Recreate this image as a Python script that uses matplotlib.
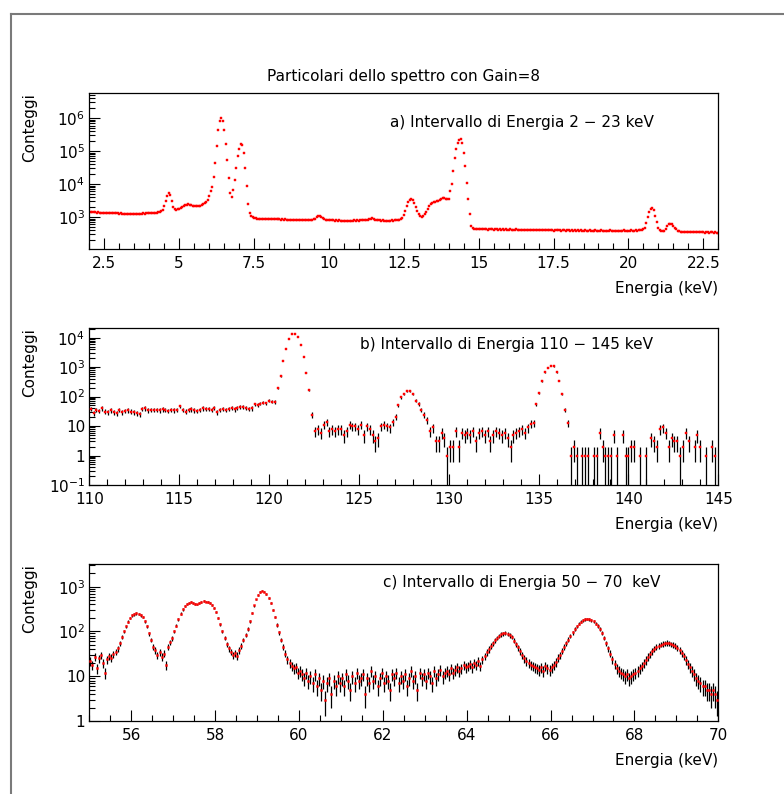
import numpy as np
import matplotlib
matplotlib.use('Agg')
import matplotlib.pyplot as plt
from matplotlib.ticker import MultipleLocator, LogLocator, FuncFormatter, NullFormatter
from matplotlib.lines import Line2D

plt.rcParams['font.family'] = ['DejaVu Sans']
plt.rcParams['mathtext.default'] = 'regular'

# ---------------- data ----------------
title = "Particolari dello spettro con Gain=8"
ylabel = "Conteggi"
xlabel = "Energia (keV)"
label_a = "a) Intervallo di Energia 2 \u2212 23 keV"
label_b = "b) Intervallo di Energia 110 \u2212 145 keV"
label_c = "c) Intervallo di Energia 50 \u2212 70  keV"

# panel a: bins of 0.05 keV starting at 2.00 keV (one row per keV)
a_start, a_step = 2.0, 0.05
a_counts = [
    1420, 1400, 1390, 1410, 1380, 1370, 1390, 1360, 1350, 1370, 1340, 1350, 1330, 1340, 1320, 1330, 1310, 1300, 1320, 1290,
    1280, 1300, 1270, 1260, 1280, 1250, 1260, 1240, 1250, 1240, 1260, 1250, 1270, 1260, 1280, 1270, 1290, 1280, 1300, 1290,
    1310, 1300, 1320, 1330, 1340, 1350, 1380, 1420, 1480, 1650, 2100, 3000, 4500, 5500, 4800, 3000, 2000, 1700, 1650, 1700,
    1800, 1900, 2000, 2100, 2250, 2400, 2450, 2400, 2250, 2150, 2100, 2100, 2100, 2150, 2200, 2300, 2450, 2600, 2800, 3300,
    4300, 6000, 8000, 16000, 45000, 140000, 450000, 850000, 1000000, 850000, 450000, 170000, 55000, 15000, 5500, 4200, 6500, 13000, 30000, 70000,
    120000, 160000, 150000, 90000, 30000, 9000, 2500, 1300, 1100, 1000, 950, 920, 900, 890, 900, 880, 890, 870, 880, 870,
    860, 870, 860, 850, 860, 850, 860, 850, 840, 850, 840, 850, 840, 830, 840, 830, 840, 830, 820, 830,
    820, 830, 820, 810, 820, 810, 800, 810, 800, 820, 850, 900, 980, 1050, 1060, 1000, 920, 850, 820, 800,
    800, 790, 800, 790, 780, 790, 780, 790, 780, 770, 780, 770, 780, 770, 780, 770, 780, 790, 780, 790,
    780, 790, 800, 790, 800, 810, 820, 850, 900, 920, 880, 840, 810, 800, 790, 780, 790, 780, 770, 780,
    780, 780, 790, 780, 790, 790, 800, 820, 860, 950, 1150, 1500, 2100, 2800, 3300, 3500, 3300, 2700, 2000, 1500,
    1200, 1050, 1000, 1050, 1200, 1450, 1800, 2200, 2500, 2700, 2800, 2900, 3000, 3100, 3300, 3500, 3700, 3700, 3600, 3500,
    3600, 6000, 10000, 25000, 60000, 120000, 180000, 220000, 230000, 180000, 90000, 35000, 11000, 3500, 1200, 550, 460, 440, 440, 430,
    430, 425, 435, 420, 430, 425, 415, 430, 420, 425, 415, 420, 430, 415, 420, 410, 425, 415, 420, 410,
    415, 420, 405, 415, 410, 420, 405, 410, 415, 400, 410, 405, 415, 400, 410, 405, 400, 410, 405, 400,
    405, 400, 410, 395, 405, 400, 395, 405, 395, 400, 390, 400, 395, 405, 395, 390, 400, 395, 390, 400,
    395, 390, 400, 390, 395, 385, 395, 390, 400, 385, 390, 395, 385, 390, 395, 385, 390, 385, 395, 390,
    385, 390, 395, 385, 390, 380, 390, 385, 395, 385, 390, 385, 380, 390, 385, 390, 385, 395, 390, 385,
    390, 385, 395, 390, 385, 395, 390, 395, 400, 410, 430, 480, 650, 1000, 1450, 1800, 1870, 1600, 1100, 700,
    480, 400, 370, 365, 380, 430, 520, 600, 630, 620, 550, 470, 420, 390, 370, 360, 360, 355, 350, 355,
    350, 345, 355, 345, 340, 350, 345, 340, 350, 340, 345, 335, 345, 340, 335, 340, 345, 335, 340, 330,
    335,
]

# panel b: bins of 0.16 keV starting at 110.08 keV
b_start, b_step = 110.08, 0.16
b_counts = [
    38, 28, 36, 33, 40, 31, 29, 34, 30, 27,
    35, 29, 33, 34, 31, 30, 27, 26, 39, 40,
    34, 36, 35, 36, 34, 37, 35, 33, 36, 34,
    36, 47, 36, 31, 35, 37, 34, 33, 36, 40,
    38, 39, 35, 41, 29, 35, 38, 35, 39, 42,
    37, 41, 46, 44, 42, 38, 40, 55, 52, 58,
    62, 60, 72, 68, 66, 190, 500, 1600, 4200, 8800,
    13000, 13000, 10500, 5500, 2200, 650, 170, 24, 7, 8,
    6, 11, 14, 7, 8, 7, 8, 8, 5, 7,
    11, 10, 10, 8, 11, 5, 10, 8, 5, 3,
    4, 10, 11, 10, 9, 14, 21, 50, 95, 125,
    155, 155, 120, 72, 56, 35, 24, 16, 7, 9,
    3, 3, 6, 4, 1, 2, 2, 7, 2, 6,
    5, 6, 5, 7, 3, 6, 7, 5, 7, 3,
    5, 7, 6, 5, 6, 4, 2, 5, 6, 7,
    8, 6, 9, 12, 13, 55, 130, 340, 680, 950,
    1120, 1070, 680, 350, 120, 36, 13, 1, 2, 1,
    0, 1, 1, 1, 0, 1, 1, 6, 2, 1,
    1, 1, 5, 1, 0, 5, 1, 1, 2, 2,
    0, 1, 0, 1, 0, 4, 3, 2, 8, 9,
    6, 2, 4, 3, 3, 1, 2, 6, 3, 0,
    2, 5, 2, 0, 1, 0, 2, 1, 0,
]

# panel c: bins of 0.05 keV starting at 55.025 keV
c_start, c_step = 55.025, 0.05
c_counts = [
    22, 18, 27, 15, 25, 30, 20, 12, 24, 28,
    26, 31, 35, 42, 55, 75, 100, 130, 165, 200,
    230, 240, 255, 245, 230, 210, 170, 130, 90, 65,
    46, 38, 30, 34, 27, 32, 18, 45, 58, 70,
    100, 135, 185, 250, 310, 370, 410, 440, 450, 440,
    420, 400, 430, 460, 470, 465, 455, 430, 390, 330,
    270, 200, 145, 100, 72, 52, 42, 35, 30, 33,
    29, 38, 48, 65, 85, 115, 170, 260, 380, 520,
    650, 760, 820, 780, 680, 560, 430, 300, 210, 140,
    95, 65, 45, 32, 24, 20, 17, 15, 16, 12,
    13, 11, 9, 12, 8, 10, 7, 11, 6, 9,
    5, 8, 3, 7, 9, 4, 8, 6, 10, 7,
    9, 6, 11, 8, 5, 10, 7, 12, 8, 9,
    11, 4, 9, 7, 13, 8, 10, 6, 9, 12,
    7, 10, 8, 5, 11, 9, 12, 7, 10, 8,
    11, 6, 9, 13, 8, 10, 5, 12, 9, 11,
    8, 12, 10, 7, 13, 9, 11, 14, 10, 12,
    13, 11, 15, 12, 14, 16, 13, 15, 18, 16,
    17, 19, 16, 20, 18, 22, 17, 24, 28, 34,
    40, 47, 55, 64, 72, 80, 86, 90, 92, 88,
    82, 75, 62, 52, 44, 36, 30, 25, 22, 20,
    18, 17, 16, 15, 14, 16, 13, 17, 15, 14,
    16, 18, 21, 26, 30, 37, 45, 55, 66, 80,
    95, 112, 130, 148, 165, 178, 185, 190, 188, 180,
    168, 150, 132, 112, 92, 72, 55, 42, 32, 24,
    19, 15, 13, 12, 11, 10, 11, 9, 10, 11,
    12, 13, 15, 17, 20, 23, 27, 31, 36, 41,
    45, 48, 51, 53, 55, 56, 54, 52, 50, 47,
    43, 38, 33, 28, 23, 19, 16, 13, 11, 9,
    8, 7, 6, 6, 5, 5, 4, 5, 4, 3,
]

# ---------------- figure ----------------
W, H = 784, 794
fig = plt.figure(figsize=(W / 100, H / 100), dpi=100)


def fx(px):
    return px / W


def fy(py):
    return 1 - py / H


def add_axes(left, top, right, bottom):
    return fig.add_axes([fx(left), fy(bottom), (right - left) / W, (bottom - top) / H])


def logfmt(v, pos):
    e = int(round(np.log10(v)))
    if e == 0:
        return '1'
    if e == 1:
        return '10'
    return r'$10^{%d}$' % e


def style(ax, xlim, ylim, xmaj, xmin):
    ax.set_yscale('log')
    ax.set_xlim(*xlim)
    ax.set_ylim(*ylim)
    ax.xaxis.set_major_locator(MultipleLocator(xmaj))
    ax.xaxis.set_minor_locator(MultipleLocator(xmin))
    ax.xaxis.set_major_formatter(FuncFormatter(lambda v, p: '%g' % v))
    ax.yaxis.set_major_locator(LogLocator(base=10, numticks=30))
    ax.yaxis.set_minor_locator(LogLocator(base=10, subs=np.arange(2, 10), numticks=30))
    ax.yaxis.set_major_formatter(FuncFormatter(logfmt))
    ax.yaxis.set_minor_formatter(NullFormatter())
    ax.tick_params(which='both', direction='in', top=False, right=False,
                   labelsize=11, width=0.8, color='black')
    ax.tick_params(which='major', length=8)
    ax.tick_params(which='minor', length=4)
    ax.tick_params(axis='x', pad=5)
    ax.tick_params(axis='y', pad=3)
    for s in ax.spines.values():
        s.set_linewidth(0.9)
        s.set_color('black')


font = 11
boxes = {
    'a': (89.3, 93.3, 718.3, 249.3),
    'b': (89.3, 328.3, 718.3, 485.0),
    'c': (89.3, 564.3, 718.3, 721.0),
}

# panel a
ax_a = add_axes(*boxes['a'])
style(ax_a, (2, 23), (105, 5.7e6), 2.5, 0.5)
a_e = a_start + a_step * np.arange(len(a_counts))
ax_a.plot(a_e, a_counts, ls='none', marker='s', ms=1.8, mfc='red', mec='red', mew=0.3)


def hist_err(ax, start, step, counts, ms):
    y = np.asarray(counts, dtype=float)
    x = start + step * np.arange(len(y))
    m = y > 0
    ax.errorbar(x[m], y[m], yerr=np.sqrt(y[m]), fmt='none', ecolor='black',
                elinewidth=0.9, capsize=0, zorder=2)
    ax.plot(x[m], y[m], ls='none', marker='s', ms=ms, mfc='red', mec='red', mew=0.3, zorder=3)


# panel b
ax_b = add_axes(*boxes['b'])
style(ax_b, (110, 145), (0.1, 2.08e4), 5, 1)
hist_err(ax_b, b_start, b_step, b_counts, 1.7)

# panel c
ax_c = add_axes(*boxes['c'])
style(ax_c, (55, 70), (1, 3160), 2, 0.5)
hist_err(ax_c, c_start, c_step, c_counts, 1.4)

# texts
fig.text(fx(404), fy(77), title, ha='center', va='center', fontsize=font)
for key, lab, pos in [('a', label_a, (390, 122)), ('b', label_b, (360, 345)), ('c', label_c, (383, 582))]:
    l, t, r, b = boxes[key]
    fig.text(fx(pos[0]), fy(pos[1]), lab, ha='left', va='center', fontsize=font)
    fig.text(fx(30), fy(t), ylabel, rotation=90, ha='center', va='top', fontsize=font)
    fig.text(fx(r), fy(b + 39), xlabel, ha='right', va='center', fontsize=font)

# outer frame (top and left edges)
fig.add_artist(Line2D([fx(11), fx(11)], [fy(14), 0], color='#7a7a7a', lw=1.5))
fig.add_artist(Line2D([fx(11), 1], [fy(14), fy(14)], color='#7a7a7a', lw=1.5))

fig.savefig('out.png', dpi=100)
